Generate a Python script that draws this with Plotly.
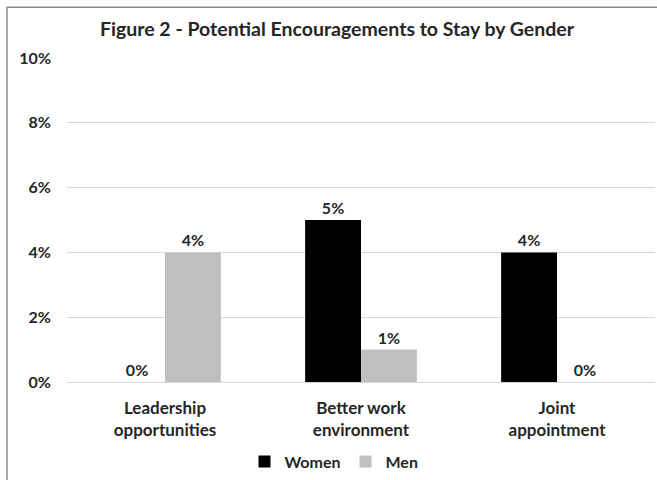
import plotly.graph_objects as go

categories = ["Leadership<br>opportunities", "Better work<br>environment", "Joint<br>appointment"]
women = [0.00, 0.05, 0.04]
men = [0.04, 0.01, 0.00]
y_ticks = [0, 0.02, 0.04, 0.06, 0.08, 0.10]
title_text = "Figure 2 - Potential Encouragements to Stay by Gender"

FONT = "Lato"
TXT = "#262626"
W, H = 657, 480
ML, MR, MT, MB = 67, 2, 58, 96


def bold(size):
    return dict(family=FONT, size=size, color=TXT, weight="bold")


fig = go.Figure()
fig.add_trace(go.Bar(
    name="Women", x=categories, y=women,
    marker=dict(color="#000000", line=dict(width=0)),
    text=[f"{v:.0%}" for v in women], textposition="outside",
    textfont=bold(16), cliponaxis=False,
))
fig.add_trace(go.Bar(
    name="Men", x=categories, y=men,
    marker=dict(color="#bfbfbf", line=dict(width=0)),
    text=[f"{v:.0%}" for v in men], textposition="outside",
    textfont=bold(16), cliponaxis=False,
))

pw = W - ML - MR
ph = H - MT - MB
# outer chart frame (left and top edges visible)
fig.add_shape(type="rect", xref="paper", yref="paper",
              x0=(7 - ML) / pw, x1=(W + 40 - ML) / pw,
              y0=-(H + 40 - MT - ph) / ph, y1=(MT - 7) / ph + 1,
              line=dict(color="#8c8c8c", width=1.5), fillcolor="rgba(0,0,0,0)", layer="below")

fig.update_layout(
    width=W, height=H,
    margin=dict(l=ML, r=MR, t=MT, b=MB),
    paper_bgcolor="white", plot_bgcolor="white",
    barmode="group", bargap=0.43, bargroupgap=0,
    font=bold(16),
    title=dict(text=title_text, x=337 / W,
               xanchor="center", y=1 - 29 / H, yanchor="middle",
               font=bold(19.5)),
    showlegend=True,
    legend=dict(orientation="h", x=(334 - ML) / pw, xanchor="center",
                y=-(464 - MT - ph) / ph, yanchor="middle",
                font=bold(16), itemwidth=30, traceorder="normal"),
    xaxis=dict(showgrid=False, showline=False, ticks="",
               ticklabelstandoff=14, tickfont=bold(17)),
    yaxis=dict(range=[0, 0.10], tickvals=y_ticks, tickformat=".0%",
               showgrid=True, gridcolor="#d9d9d9", gridwidth=1,
               zeroline=True, zerolinecolor="#d9d9d9", zerolinewidth=1,
               showline=False, ticks="", ticklabelstandoff=15,
               tickfont=bold(16)),
)

fig.write_html("out.html")
